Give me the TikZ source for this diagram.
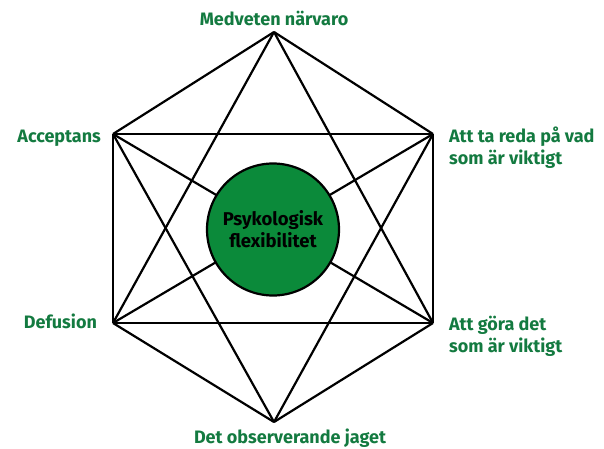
\documentclass[tikz,border=0pt]{standalone}
\usepackage{fontspec}
\setmainfont{Fira Sans}
\usepackage{xcolor}
\usepackage{tikz}
\usetikzlibrary{calc}

\definecolor{actgreen}{HTML}{137A40}
\definecolor{ballgreen}{HTML}{0B8A3A}

\begin{document}
\begin{tikzpicture}[x = 1pt, y = -1pt, line width = 2.2pt,
  lbl/.style = {text = actgreen, inner sep = 0pt, font = \bfseries\fontsize{18}{22}\selectfont}]
  \useasboundingbox (0, 0) rectangle (604, 448);

  \coordinate (T) at (274, 32);
  \coordinate (UL) at (113, 134);
  \coordinate (UR) at (433, 134);
  \coordinate (LL) at (113, 323);
  \coordinate (LR) at (433, 323);
  \coordinate (B) at (274, 422);

  % hexagon and its diagonals
  \foreach \a/\b in {T/UR, UR/LR, LR/B, B/LL, LL/UL, UL/T,
    T/LL, T/LR, B/UL, B/UR, UL/UR, LL/LR, UL/LR, UR/LL}
    \draw (\a) -- (\b);

  \node[circle, draw, fill = ballgreen, minimum size = 132pt, align = center,
    inner sep = 0pt, font = \bfseries\fontsize{18.5}{22}\selectfont] (C) at (273, 229.5)
  {Psykologisk\\flexibilitet};

  \node[lbl, anchor = base] (top) at (274, 25) {Medveten närvaro};
  \node[lbl, anchor = base east] (acc) at (102, 142) {Acceptans};
  \node[lbl, anchor = base east] (def) at (98, 328) {Defusion};
  \node[lbl, anchor = west, align = left] (val) at (448, 148)
  {Att ta reda på vad\\som är viktigt};
  \node[lbl, anchor = west, align = left] (act) at (448, 336)
  {Att göra det\\som är viktigt};
  \node[lbl, anchor = base] (self) at (290, 443) {Det observerande jaget};
\end{tikzpicture}
\end{document}
